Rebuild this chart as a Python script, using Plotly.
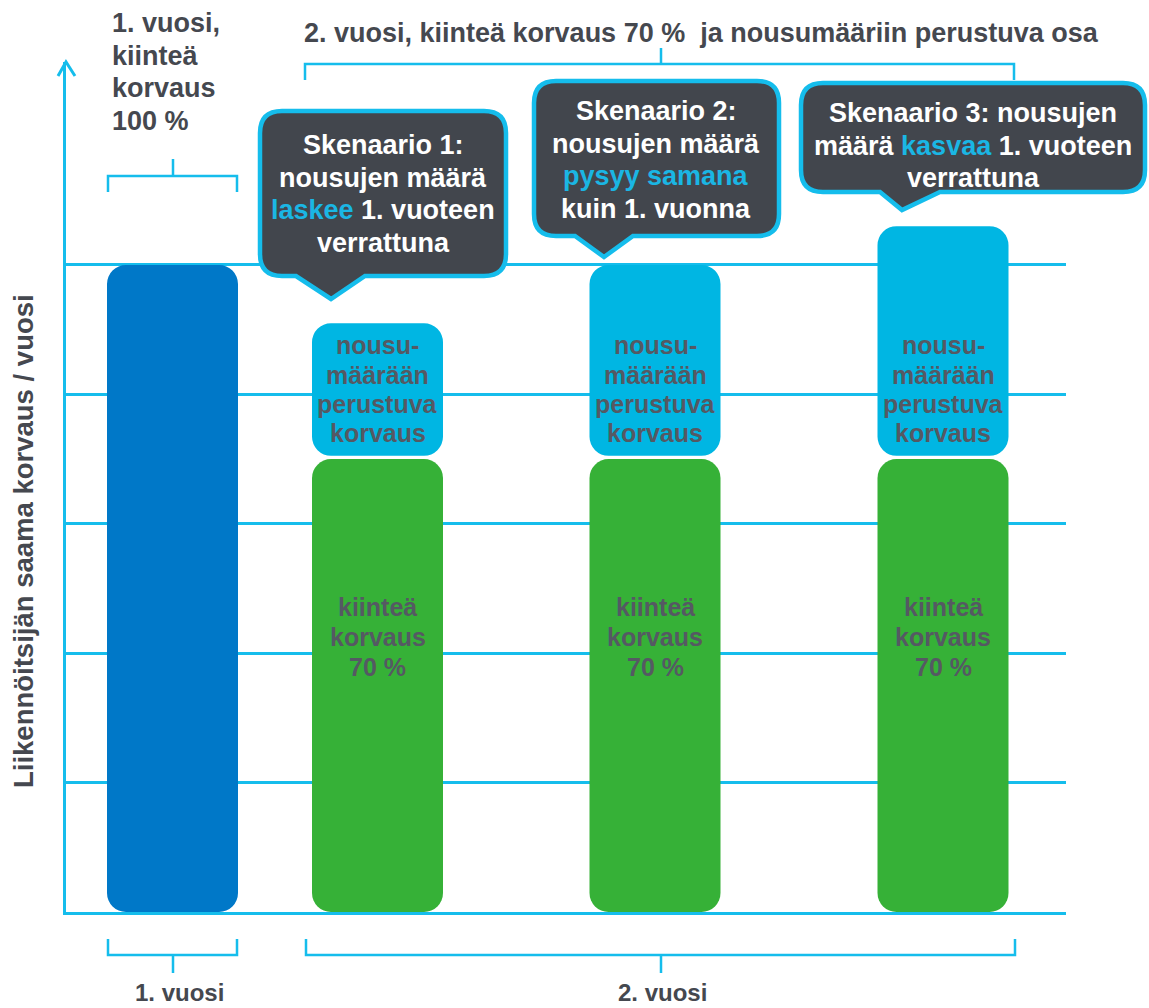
import plotly.graph_objects as go

# ---------------- data ----------------
categories = ["1. vuosi", "Skenaario 1", "Skenaario 2", "Skenaario 3"]
year1_fixed = [100]            # 1. vuosi, kiinteä korvaus 100 %
year2_fixed = [70, 70, 70]     # 2. vuosi, kiinteä korvaus 70 %
year2_variable = [21, 30, 36]  # nousumäärään perustuva korvaus
y_ticks = [0, 20, 40, 60, 80, 100]

# ---------------- layout constants ----------------
W, H = 1149, 1008
ML, MR, MT, MB = 66, 83, 62, 96
PW, PH = W - ML - MR, H - MT - MB
YMAX = 131.37
bar_x = [106.5, 311.5, 589, 877]
bar_w = 131
GAP = 0.5
RAD = 19

C_BLUE = "#0078c8"
C_CYANBAR = "#00b6e3"
C_GREEN = "#36b137"
C_LINE = "#15bdec"
C_DARK = "#45484f"
C_BARTXT = "#555963"
C_BOX = "#42464d"
C_HL = "#1ab6e4"
FONT = "Liberation Sans, Arial, sans-serif"


def px(x, y):
    return (x - ML) / PW, (H - MB - y) / PH


def pstr(x, y):
    a, b = px(x, y)
    return f"{a:.5f},{b:.5f}"


fig = go.Figure()


def rounded_bars(xs, lo, hi, color):
    fig.add_trace(go.Bar(x=xs, y=[h - l for l, h in zip(lo, hi)], base=lo,
                         width=bar_w, marker=dict(color=color, cornerradius=RAD,
                                                  line=dict(width=0)),
                         hoverinfo="skip", showlegend=False))


# year 1 bar
rounded_bars(bar_x[:1], [0], year1_fixed, C_BLUE)
# year 2 fixed parts
rounded_bars(bar_x[1:], [0] * 3, year2_fixed, C_GREEN)
# year 2 variable parts
rounded_bars(bar_x[1:], [f + GAP for f in year2_fixed],
             [f + v for f, v in zip(year2_fixed, year2_variable)], C_CYANBAR)

shapes = []
annotations = []


def text_lines(lines, xc, y0, dy, size, color, xanchor="center"):
    for i, t in enumerate(lines):
        xp, yp = px(xc, y0 + i * dy)
        annotations.append(dict(text=t, x=xp, y=yp, xref="paper", yref="paper",
                                xanchor=xanchor, yanchor="middle", showarrow=False,
                                font=dict(family=FONT, size=size, color=color, weight="bold")))


# bar texts
for xc in bar_x[1:]:
    cx = xc + ML
    text_lines(["nousu-", "määrään", "perustuva", "korvaus"], cx, 345, 29.5, 25, C_BARTXT)
    text_lines(["kiinteä", "korvaus", "70 %"], cx, 607, 30, 25, C_BARTXT)


def callout(l, t, r, b, tb0, tb1, tx, ty, rad=22):
    d = (f"M {pstr(l+rad, t)} L {pstr(r-rad, t)} Q {pstr(r, t)} {pstr(r, t+rad)} "
         f"L {pstr(r, b-rad)} Q {pstr(r, b)} {pstr(r-rad, b)} L {pstr(tb1, b)} "
         f"L {pstr(tx, ty)} L {pstr(tb0, b)} L {pstr(l+rad, b)} Q {pstr(l, b)} {pstr(l, b-rad)} "
         f"L {pstr(l, t+rad)} Q {pstr(l, t)} {pstr(l+rad, t)} Z")
    shapes.append(dict(type="path", path=d, xref="paper", yref="paper",
                       fillcolor=C_BOX, line=dict(color=C_LINE, width=4.5), layer="above"))


def hl(s):
    return f"<span style='color:{C_HL}'>{s}</span>"


callout(260, 111, 506, 276, 296, 365, 331, 299)
text_lines(["Skenaario 1:", "nousujen määrä", hl("laskee") + " 1. vuoteen", "verrattuna"],
           383, 145, 32.7, 27, "white")
callout(534, 81, 779, 236, 575, 633, 604, 257)
text_lines(["Skenaario 2:", "nousujen määrä", hl("pysyy samana"), "kuin 1. vuonna"],
           656, 111, 32.7, 27, "white")
callout(801, 83, 1145, 192, 880, 940, 902, 210)
text_lines(["Skenaario 3: nousujen", "määrä " + hl("kasvaa") + " 1. vuoteen", "verrattuna"],
           973, 113, 32.7, 27, "white")


def bracket(x0, x1, yh, yend, xc, ytip):
    d = (f"M {pstr(x0, yend)} L {pstr(x0, yh)} L {pstr(x1, yh)} L {pstr(x1, yend)} "
         f"M {pstr(xc, yh)} L {pstr(xc, ytip)}")
    shapes.append(dict(type="path", path=d, xref="paper", yref="paper",
                       line=dict(color=C_LINE, width=2.5), layer="above"))


bracket(108, 237, 176, 192, 173, 159)
bracket(305, 1014, 64, 80, 661, 48)
bracket(108, 237, 955, 939, 173, 973)
bracket(306, 1015, 955, 939, 661, 973)

# y-axis arrow head
shapes.append(dict(type="path", path=f"M {pstr(58, 76)} L {pstr(66, 62)} L {pstr(75, 76)}",
                   xref="paper", yref="paper", line=dict(color=C_LINE, width=3), layer="above"))

# headings
text_lines(["1. vuosi,", "kiinteä", "korvaus", "100 %"], 110, 23, 32.5, 27, C_DARK, xanchor="left")
text_lines(["2. vuosi, kiinteä korvaus 70 %  ja nousumääriin perustuva osa"], 302, 33, 0, 27,
           C_DARK, xanchor="left")
text_lines(["1. vuosi"], 179, 992, 0, 24, C_DARK)
text_lines(["2. vuosi"], 662, 992, 0, 24, C_DARK)

# y title
xp, yp = px(23, 541)
annotations.append(dict(text="Liikennöitsijän saama korvaus / vuosi", x=xp, y=yp,
                        xref="paper", yref="paper", xanchor="center", yanchor="middle",
                        textangle=-90, showarrow=False,
                        font=dict(family=FONT, size=27.5, color=C_DARK, weight="bold")))

fig.update_layout(
    width=W, height=H,
    margin=dict(l=ML, r=MR, t=MT, b=MB, pad=0),
    paper_bgcolor="white", plot_bgcolor="white",
    barmode="overlay",
    shapes=shapes, annotations=annotations,
    xaxis=dict(range=[0, PW], showgrid=False, zeroline=False, showticklabels=False,
               ticks="", showline=True, linecolor=C_LINE, linewidth=3, fixedrange=True),
    yaxis=dict(range=[0, YMAX], tickvals=y_ticks, showticklabels=False, ticks="",
               showgrid=True, gridcolor=C_LINE, gridwidth=2.5, zeroline=False,
               showline=True, linecolor=C_LINE, linewidth=3, fixedrange=True),
)

fig.write_html("out.html", config={"displayModeBar": False},
               post_script="document.body.style.margin='0px';document.body.style.overflow='hidden';")
